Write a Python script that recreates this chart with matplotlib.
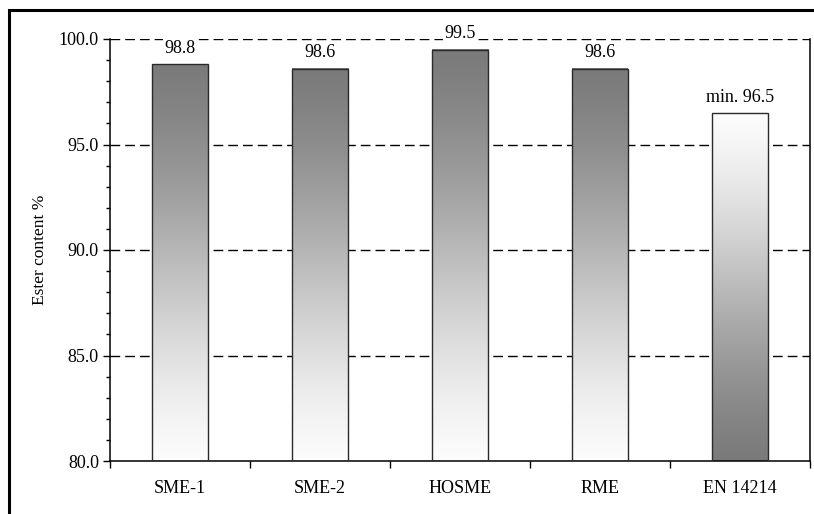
import numpy as np
import matplotlib
matplotlib.use("Agg")
import matplotlib.pyplot as plt
from matplotlib.patches import Rectangle
from matplotlib.ticker import FixedLocator, MultipleLocator, FormatStrFormatter, NullFormatter

categories = ["SME-1", "SME-2", "HOSME", "RME", "EN 14214"]
ester_content = [98.8, 98.6, 99.5, 98.6, 96.5]
value_labels = ["98.8", "98.6", "99.5", "98.6", "min. 96.5"]
# gradient direction per bar: True = dark at top, False = dark at bottom
dark_on_top = [True, True, True, True, False]

plt.rcParams["font.family"] = ["Liberation Serif", "DejaVu Serif"]

fig = plt.figure(figsize=(8.14, 5.14), dpi=100)
ax = fig.add_axes([110 / 814, 53 / 514, 700 / 814, 422 / 514])

y_min, y_max = 80.0, 100.0
x = np.arange(len(categories))

# dashed horizontal grid behind the bars
for g in [85, 90, 95, 100]:
    ax.axhline(g, color="black", lw=1.0, dashes=(7, 3.6), zorder=0.5)

bars = ax.bar(x, ester_content, width=0.4, bottom=0, facecolor="none",
              edgecolor="#2a2a2a", linewidth=1.0, zorder=3)

dark = 0.48
light = 0.99
lin = np.linspace(0, 1, 256)
ramp = 0.5 * (lin + (3 * lin**2 - 2 * lin**3))
for bar, top_dark in zip(bars, dark_on_top):
    x0 = bar.get_x()
    x1 = x0 + bar.get_width()
    h = bar.get_height()
    t = ramp if top_dark else ramp[::-1]
    # row 0 drawn at top (origin='upper')
    grey = dark + (light - dark) * t
    img = np.repeat(np.stack([grey] * 3, axis=-1)[:, None, :], 2, axis=1)
    ax.imshow(img, extent=[x0, x1, y_min, h], origin="upper",
              aspect="auto", interpolation="bilinear", zorder=2)

for xi, v, lab in zip(x, ester_content, value_labels):
    ax.annotate(lab, (xi, v), xytext=(0, 8), textcoords="offset points",
                ha="center", va="baseline", fontsize=13, zorder=4,
                bbox=dict(facecolor="white", edgecolor="none", pad=1.0))

ax.set_xlim(-0.5, len(categories) - 0.5)
ax.set_ylim(y_min, y_max)

ax.xaxis.set_major_locator(FixedLocator(np.arange(-0.5, len(categories), 1.0)))
ax.xaxis.set_major_formatter(NullFormatter())
ax.xaxis.set_minor_locator(FixedLocator(x))
ax.set_xticklabels(categories, minor=True)
ax.tick_params(axis="x", which="major", direction="out", length=5, width=1.0)
ax.tick_params(axis="x", which="minor", length=0, pad=14, labelsize=13)

ax.yaxis.set_major_locator(MultipleLocator(5))
ax.yaxis.set_minor_locator(MultipleLocator(1))
ax.yaxis.set_major_formatter(FormatStrFormatter("%.1f"))
ax.tick_params(axis="y", which="major", direction="out", length=5, width=1.0,
               labelsize=13, pad=3)
ax.tick_params(axis="y", which="minor", direction="out", length=3, width=1.0)

ax.set_ylabel("Ester content %", fontsize=12.5, va="center")
ax.yaxis.set_label_coords(-70 / 700, 0.5)

ax.spines["top"].set_visible(False)
for s in ["left", "bottom", "right"]:
    ax.spines[s].set_linewidth(1.1)
    ax.spines[s].set_color("black")
ax.spines["right"].set_bounds(y_min, y_max)

# outer frame around the figure
frame = Rectangle((9 / 814, -0.1), 1.2, 1.0 + 0.1 - 10 / 514,
                  transform=fig.transFigure, fill=False, edgecolor="black",
                  linewidth=2.2, clip_on=False)
fig.patches.append(frame)

fig.savefig("out.png", dpi=100)
